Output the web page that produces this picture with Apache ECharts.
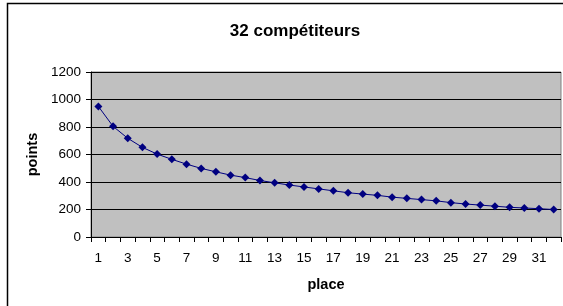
<!DOCTYPE html>
<html>
<head>
<meta charset="utf-8">
<script src="https://cdn.jsdelivr.net/npm/echarts@6/dist/echarts.min.js"></script>
<style>
html,body{margin:0;padding:0;background:#fff;}
#c{width:563px;height:306px;}
</style>
</head>
<body>
<div id="c"></div>
<script>
const titleText = "32 compétiteurs";
const xName = "place";
const yName = "points";
const places = ["1","2","3","4","5","6","7","8","9","10","11","12","13","14","15","16","17","18","19","20","21","22","23","24","25","26","27","28","29","30","31","32"];
const points = [950,805,718,652,603,565,530,499,474,450,432,411,394,378,364,350,336,322,312,303,290,281,272,263,250,240,232,224,216,211,206,200];
const yMin = 0, yMax = 1200, yStep = 200;

const chart = echarts.init(document.getElementById('c'), null, {renderer:'canvas'});
const F = '"Liberation Sans", Arial, sans-serif';
chart.setOption({
  animation:false,
  backgroundColor:'#ffffff',
  graphic:[{type:'rect',shape:{x:7.5,y:3.5,width:700,height:400},style:{fill:'none',stroke:'#000',lineWidth:1.5},silent:true}],
  title:{text:titleText,left:290,textAlign:'center',top:18,textStyle:{fontFamily:F,fontSize:17,fontWeight:'bold',color:'#000'}},
  grid:{left:91,right:2,top:72,bottom:69,show:true,backgroundColor:'#c0c0c0',borderColor:'#808080',borderWidth:1},
  xAxis:{type:'category',data:places,boundaryGap:true,
    name:xName,nameLocation:'middle',nameGap:40,
    nameTextStyle:{fontFamily:F,fontSize:14.5,fontWeight:'bold',color:'#000'},
    axisLine:{lineStyle:{color:'#000',width:1}},
    axisTick:{show:true,interval:0,length:5,inside:false,lineStyle:{color:'#000'}},
    axisLabel:{interval:1,margin:14,fontFamily:F,fontSize:13.5,color:'#000'},
    splitLine:{show:false}},
  yAxis:{type:'value',min:yMin,max:yMax,interval:yStep,
    name:yName,nameLocation:'middle',nameGap:45,nameRotate:90,
    nameTextStyle:{fontFamily:F,fontSize:14.5,fontWeight:'bold',color:'#000'},
    axisLine:{show:true,lineStyle:{color:'#000',width:1}},
    axisTick:{show:true,length:5,lineStyle:{color:'#000'}},
    axisLabel:{margin:10,fontFamily:F,fontSize:13.5,color:'#000',formatter:function(v){return String(v);}},
    splitLine:{show:true,lineStyle:{color:'#000',width:1}}},
  series:[{type:'line',data:points,symbol:'diamond',symbolSize:8,
    lineStyle:{color:'#000080',width:1},itemStyle:{color:'#000080'}}]
});
</script>
</body>
</html>
